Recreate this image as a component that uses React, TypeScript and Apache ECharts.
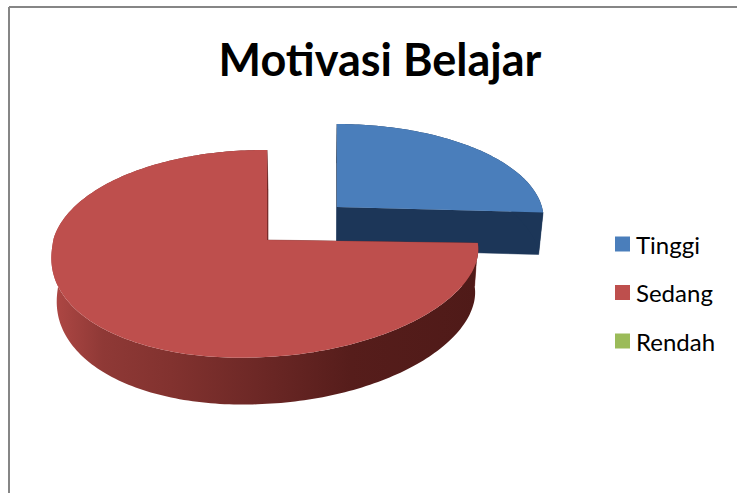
import React, { useEffect, useRef } from "react";
import * as echarts from "echarts";

const titleText = "Motivasi Belajar";
const categories = ["Tinggi", "Sedang", "Rendah"];
const values = [7, 20, 0];
const topColors = ["#4A7EBB", "#BE4F4D", "#9BBB59"];
const wallColors = ["#1C3658", "#7A2E2C", "#5F7530"];

const total = values.reduce((a, b) => a + b, 0);
const APEX_X = 267, APEX_Y = 240, KY = 101.7, PERSP = 0.1304, BULGE = 0.02;
const LEAN = [0, 12, 12];
const RADIUS_X = [214, 209.5, 209.5];
const EXPLODE_X = [70, 0, 0];
const EXPLODE_V = [-0.339, 0, 0];

function project(i: number, u: number, v: number) {
  const vv = v + EXPLODE_V[i];
  const s = 1 / (1 - PERSP * vv + BULGE * Math.min(u, 0));
  const x = APEX_X + EXPLODE_X[i] + RADIUS_X[i] * u * s;
  const y = APEX_Y + KY * vv * s - LEAN[i] * u * Math.sqrt(Math.max(v, 0));
  return [x, y];
}
function lower(p: number[]) {
  return [320 + (p[0] - 320) * 0.98, p[1] + 42 + 0.033 * (p[1] - 211)];
}
function arcPoints(i: number, a0: number, a1: number) {
  const pts: number[][] = [];
  const n = Math.max(2, Math.ceil(Math.abs(a1 - a0) / 0.02));
  for (let k = 0; k <= n; k++) {
    const a = a0 + ((a1 - a0) * k) / n;
    pts.push(project(i, Math.sin(a), -Math.cos(a)));
  }
  return pts;
}

const redSide = new echarts.graphic.LinearGradient(0, 0, 1, 0, [
  { offset: 0, color: "#B04845" },
  { offset: 0.12, color: "#8F3936" },
  { offset: 0.28, color: "#82322F" },
  { offset: 0.5, color: "#6B2725" },
  { offset: 0.7, color: "#561D1B" },
  { offset: 1, color: "#4F1A18" },
]);

function makeRender(i: number) {
  return (_params: any, api: any) => {
    const value = api.value(0);
    if (!value) return { type: "group", children: [] };
    const before = values.slice(0, i).reduce((a, b) => a + b, 0);
    const a0 = (before / total) * Math.PI * 2;
    const a1 = ((before + value) / total) * Math.PI * 2;
    const arc = arcPoints(i, a0, a1);
    const apex = project(i, 0, 0);
    const face = [apex, ...arc];
    const lowArc = arc.map(lower).reverse();
    const wall = (a: number[], b: number[]) => ({
      type: "polygon",
      shape: { points: [a, b, lower(b), lower(a)] },
      style: { fill: wallColors[i], stroke: wallColors[i], lineWidth: 0.5 },
    });
    const sideFill = i === 1 ? redSide : wallColors[i];
    return {
      type: "group",
      children: [
        wall(apex, arc[0]),
        wall(apex, arc[arc.length - 1]),
        { type: "polygon", shape: { points: [...arc, ...lowArc] }, style: { fill: sideFill } },
        { type: "polygon", shape: { points: face }, style: { fill: topColors[i] } },
      ],
    };
  };
}

export default function App() {
  const ref = useRef<HTMLDivElement>(null);
  useEffect(() => {
    const chart = echarts.init(ref.current!, undefined, { renderer: "svg" });
    chart.setOption({
      animation: false,
      backgroundColor: "#FFFFFF",
      title: {
        text: titleText,
        left: 375,
        top: 31,
        textAlign: "center",
        textStyle: { fontFamily: "Lato", fontWeight: "bold", fontSize: 45, color: "#000000" },
      },
      legend: {
        orient: "vertical",
        left: 610,
        top: 227,
        itemWidth: 15,
        itemHeight: 15,
        itemGap: 24.5,
        icon: "rect",
        data: categories,
        textStyle: { fontFamily: "Lato", fontSize: 24, color: "#000000", padding: [0, 0, 0, 1] },
      },
      graphic: [
        { type: "line", shape: { x1: 9, y1: 7, x2: 737, y2: 7 }, style: { stroke: "#868686", lineWidth: 2 } },
        { type: "line", shape: { x1: 9, y1: 7, x2: 9, y2: 493 }, style: { stroke: "#868686", lineWidth: 2 } },
      ],
      series: categories.map((name, i) => ({
        type: "custom",
        name,
        coordinateSystem: "none",
        itemStyle: { color: topColors[i] },
        data: [[values[i]]],
        renderItem: makeRender(i),
        silent: true,
      })),
    });
    return () => chart.dispose();
  }, []);
  return <div ref={ref} style={{ position: "absolute", left: 0, top: 0, width: 737, height: 493 }} />;
}
